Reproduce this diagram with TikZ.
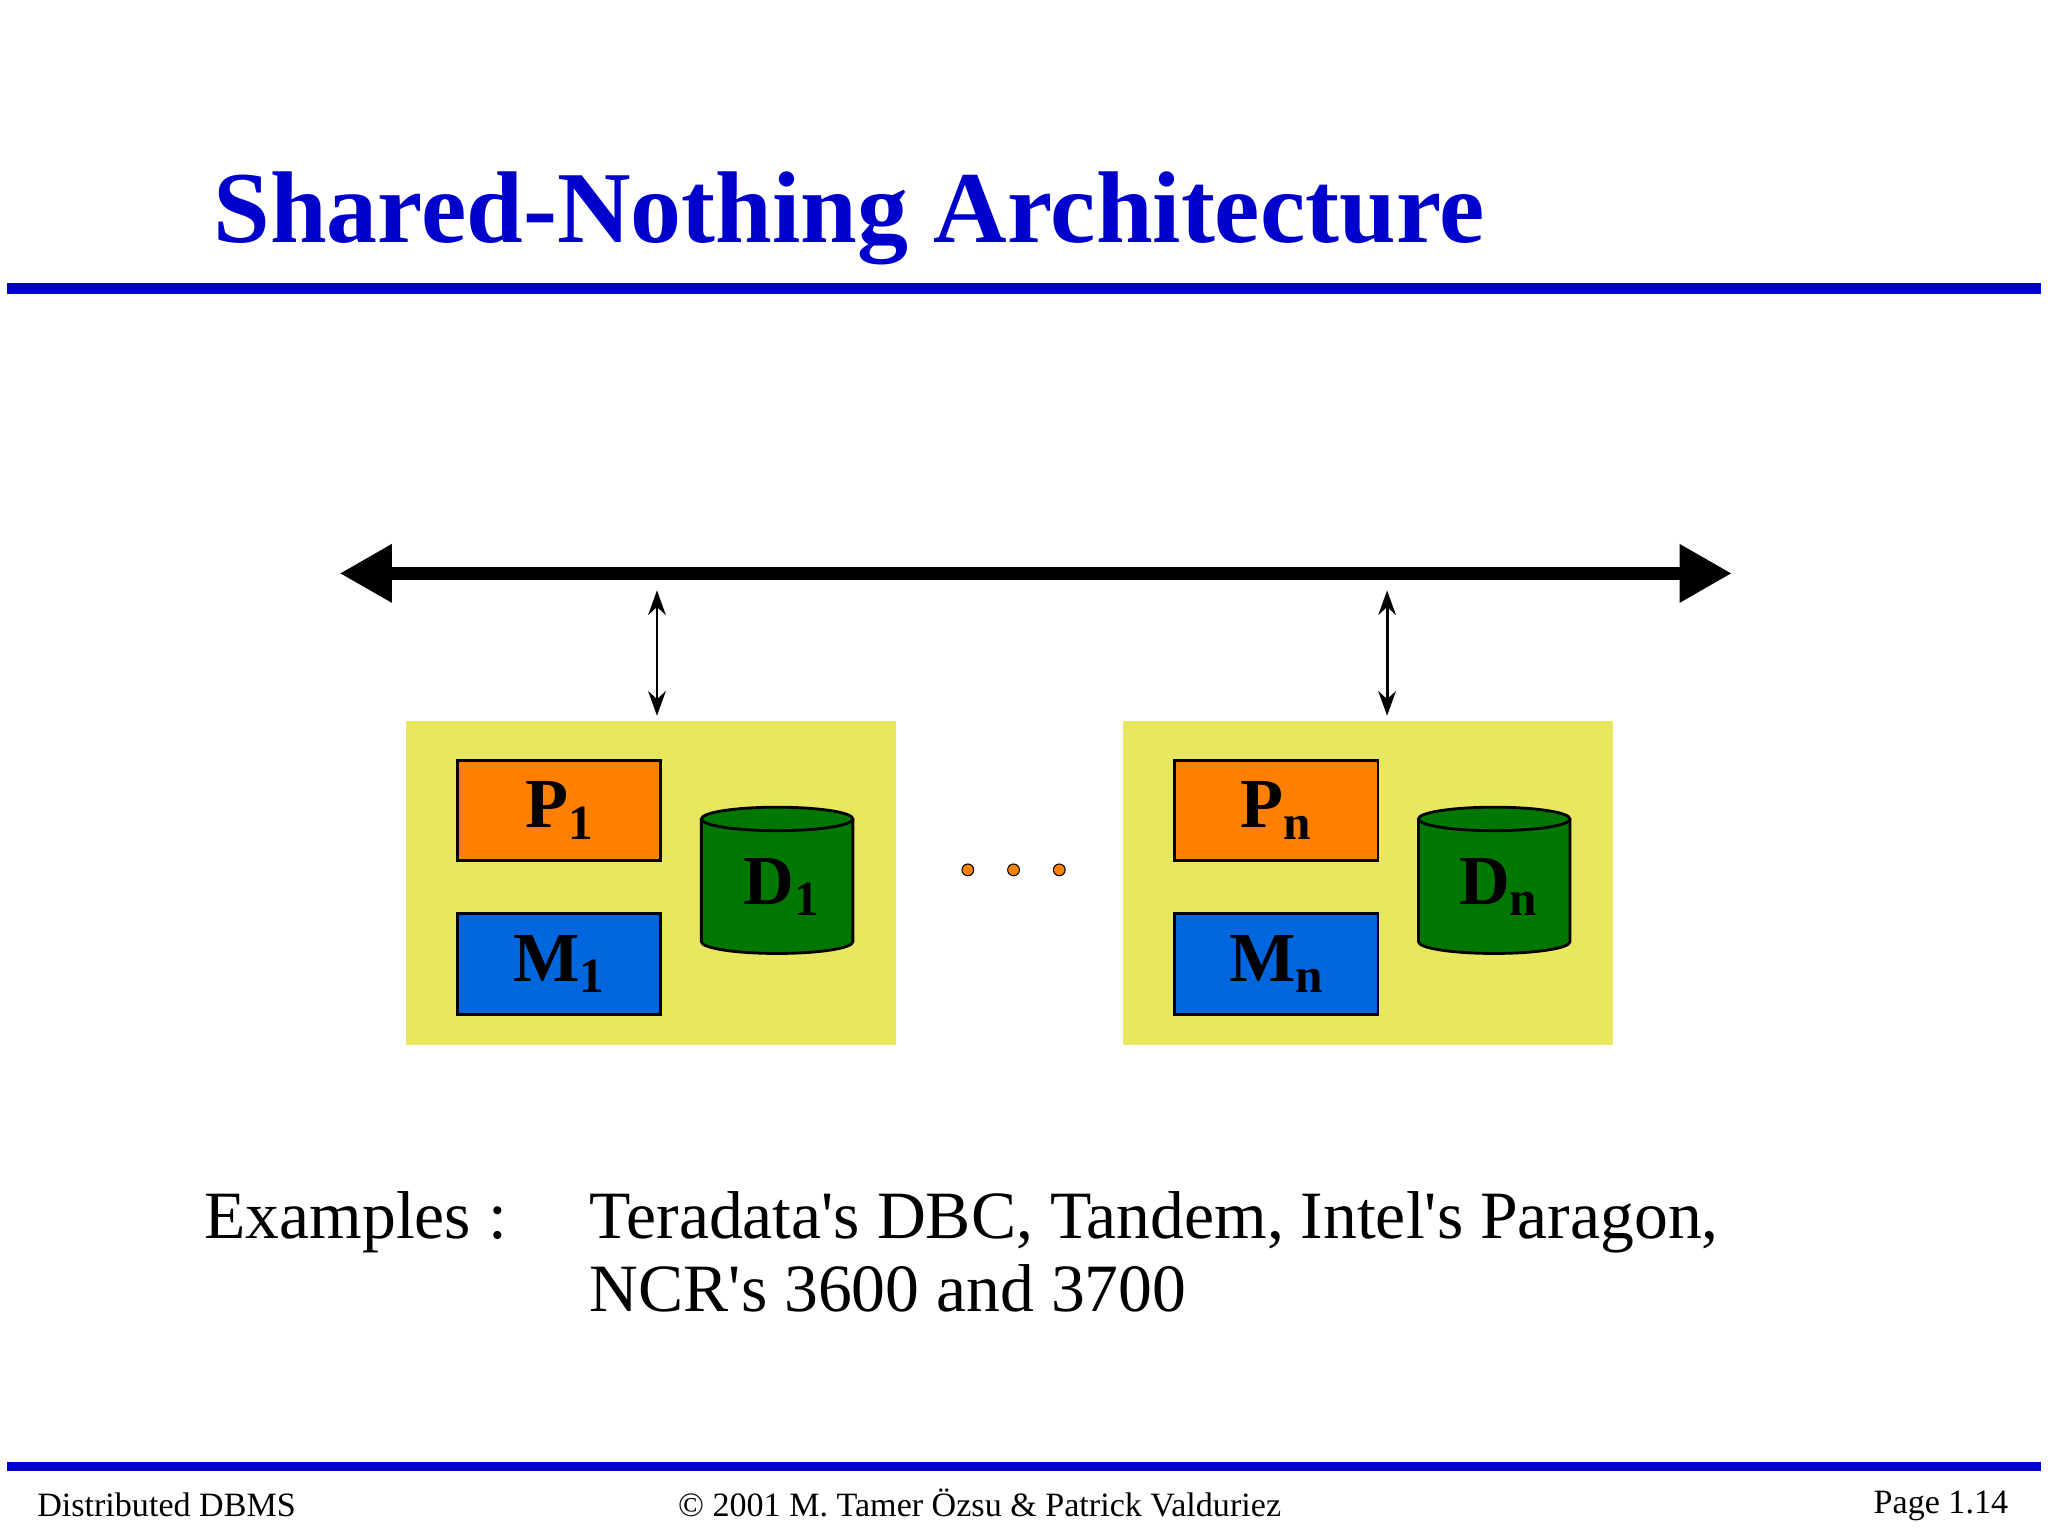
\documentclass[tikz,border=0pt]{standalone}
\usepackage{fontspec}
\setmainfont{Liberation Serif}
\usetikzlibrary{arrows.meta}
\definecolor{ttl}{RGB}{0,0,204}
\definecolor{ylw}{RGB}{232,232,96}
\definecolor{org}{RGB}{255,128,0}
\definecolor{blu}{RGB}{0,102,221}
\definecolor{grn}{RGB}{0,119,0}
\newcommand{\mysub}[1]{\raisebox{-0.35ex}{\fontsize{14}{14}\selectfont #1}}
\begin{document}
\begin{tikzpicture}[x=0.013061cm,y=-0.013061cm,
  unitbox/.style={fill=ylw,draw=none,minimum width=375*0.013061cm,minimum height=248*0.013061cm,inner sep=0},
  pbox/.style={fill=org,draw=black,line width=0.8pt,minimum width=156*0.013061cm,minimum height=77*0.013061cm,inner sep=0,font=\bfseries\fontsize{20}{20}\selectfont},
  mbox/.style={pbox,fill=blu},
  lbl/.style={font=\bfseries\fontsize{20}{20}\selectfont,inner sep=0},
  link/.style={line width=0.8pt,{Stealth[length=7pt,width=5pt]}-{Stealth[length=7pt,width=5pt]}}]
\useasboundingbox (0,0) rectangle (1568,1176);
\node[anchor=base west,text=ttl,font=\bfseries\fontsize{29}{29}\selectfont,inner sep=0] (title) at (163,186) {Shared-Nothing Architecture};
\fill[ttl] (5,217) rectangle (1563,225);
\fill[ttl] (5,1119) rectangle (1563,1126);
\coordinate (bl) at (260,439); \coordinate (br) at (1326,439);
\draw[line width=3.7pt,{Triangle[length=40*0.013061cm,width=42*0.013061cm]}-{Triangle[length=40*0.013061cm,width=42*0.013061cm]}] (bl) -- (br);
\foreach \i/\s/\dx/\ax in {1/1/0/0,2/n/549/559}{
  \begin{scope}[xshift=\dx*0.013061cm]
  \node[unitbox] (u\i) at (498.5,676) {};
  \node[pbox] (p\i) at (428,620.5) {P\mysub{\s}};
  \node[mbox] (m\i) at (428,738) {M\mysub{\s}};
  \draw[fill=grn,line width=0.8pt] (537,627) -- (537,721) arc[start angle=180,end angle=0,x radius=58,y radius=9] -- (653,627);
  \draw[fill=grn,line width=0.8pt] (595,627) ellipse[x radius=58,y radius=9];
  \node[lbl] (d\i) at (598,679) {D\mysub{\s}};
  \end{scope}
  \begin{scope}[xshift=\ax*0.013061cm]
  \coordinate (t\i) at (503,452);
  \coordinate (b\i) at (503,548);
  \draw[link] (t\i) -- (b\i);
  \end{scope}}
\foreach \x [count=\k] in {741,776,811}{\node[circle,fill=org,draw=black,line width=0.3pt,minimum size=9*0.013061cm,inner sep=0] (dot\k) at (\x,666) {};}
\tikzset{ext/.style={anchor=base west,font=\fontsize{19.25}{19.25}\selectfont,inner sep=0}}
\node[ext] (ex) at (156,948) {Examples :};
\node[ext] (ex1) at (451,948) {Teradata\textquotesingle s DBC, Tandem, Intel\textquotesingle s Paragon,};
\node[ext] (ex2) at (451,1004) {NCR\textquotesingle s 3600 and 3700};
\node[anchor=base west,font=\fontsize{9.7}{9.7}\selectfont,inner sep=0] (f1) at (28,1161) {Distributed DBMS};
\node[anchor=base,font=\fontsize{9.7}{9.7}\selectfont,inner sep=0] (f2) at (750,1161) {© 2001 M. Tamer Özsu \& Patrick Valduriez};
\node[anchor=base east,font=\fontsize{9.7}{9.7}\selectfont,inner sep=0] (f3) at (1538,1159) {Page 1.14};
\end{tikzpicture}
\end{document}
